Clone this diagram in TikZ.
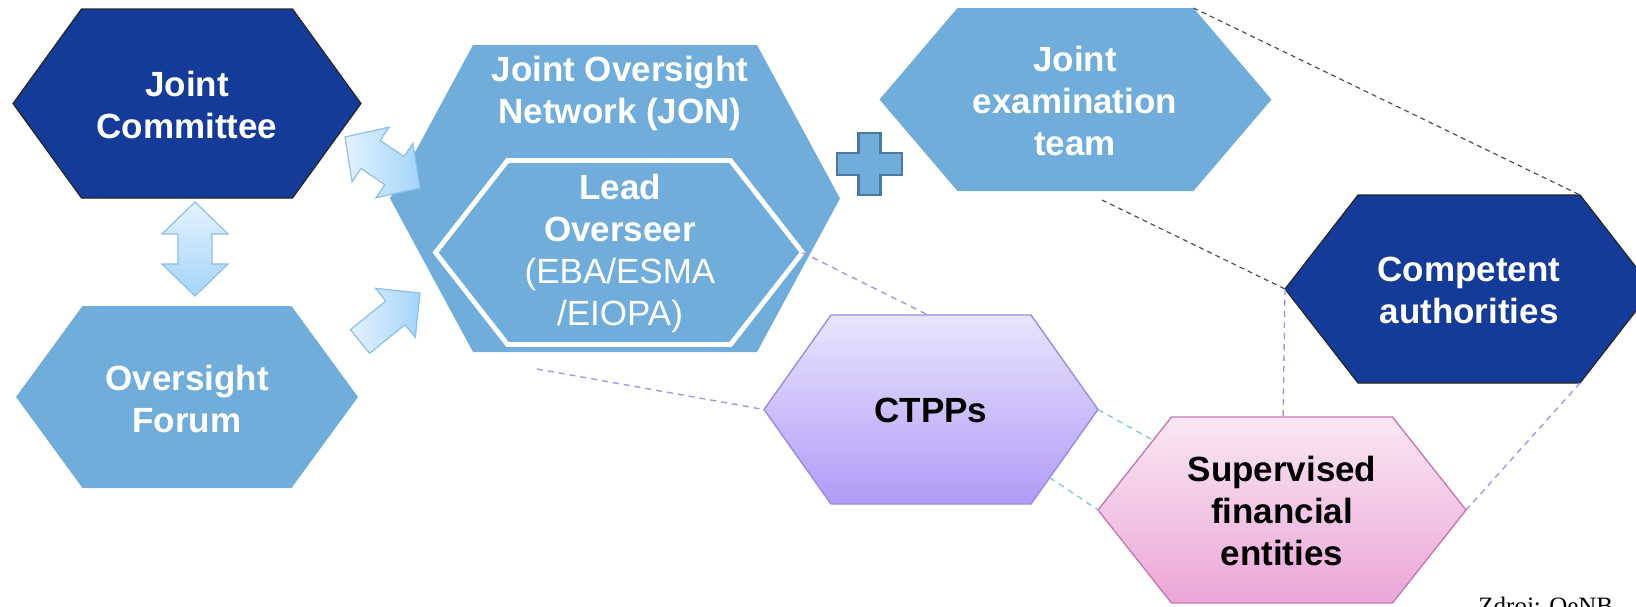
\documentclass[tikz,border=0pt]{standalone}
\usepackage{fontspec}
\setsansfont{Liberation Sans}
\newfontfamily\zdrojfont{Liberation Serif}
\usetikzlibrary{calc}
\definecolor{darkblue}{RGB}{19,59,151}
\definecolor{midblue}{RGB}{112,173,218}
\definecolor{plusedge}{RGB}{72,122,165}
\definecolor{arrowtop}{RGB}{228,242,255}
\definecolor{arrowbot}{RGB}{163,213,249}
\definecolor{arrowedge}{RGB}{140,192,232}
\definecolor{ctpptop}{RGB}{233,228,253}
\definecolor{ctppbot}{RGB}{176,156,247}
\definecolor{ctppedge}{RGB}{157,138,230}
\definecolor{sfetop}{RGB}{250,231,244}
\definecolor{sfebot}{RGB}{235,166,214}
\definecolor{sfeedge}{RGB}{194,123,181}
\definecolor{lavdash}{RGB}{165,150,234}
\definecolor{bluedash}{RGB}{140,198,230}
\definecolor{graydash}{RGB}{80,80,80}

\newcommand{\hexa}[7]{%
  \coordinate (#1-c) at (#2,#3);
  \coordinate (#1-l) at ({#2-#4},#3);
  \coordinate (#1-tl) at ({#2-#5},{#3-#6});
  \coordinate (#1-tr) at ({#2+#5},{#3-#6});
  \coordinate (#1-r) at ({#2+#4},#3);
  \coordinate (#1-br) at ({#2+#5},{#3+#6});
  \coordinate (#1-bl) at ({#2-#5},{#3+#6});
  \path[#7] (#1-l) -- (#1-tl) -- (#1-tr) -- (#1-r) -- (#1-br) -- (#1-bl) -- cycle;
}
\newcommand{\dblarrow}[6]{%
  \path[blockarrow,#6] (#1)
    -- ($(#1)!#3!(#2)!#4!90:(#2)$)
    -- ($(#1)!#3!(#2)!#5!90:(#2)$)
    -- ($(#2)!#3!(#1)!#5!-90:(#1)$)
    -- ($(#2)!#3!(#1)!#4!-90:(#1)$)
    -- (#2)
    -- ($(#2)!#3!(#1)!#4!90:(#1)$)
    -- ($(#2)!#3!(#1)!#5!90:(#1)$)
    -- ($(#1)!#3!(#2)!#5!-90:(#2)$)
    -- ($(#1)!#3!(#2)!#4!-90:(#2)$)
    -- cycle;
}
\newcommand{\sglarrow}[6]{%
  \path[blockarrow,#6] ($(#1)!#5!90:(#2)$)
    -- ($(#2)!#3!(#1)!#5!-90:(#1)$)
    -- ($(#2)!#3!(#1)!#4!-90:(#1)$)
    -- (#2)
    -- ($(#2)!#3!(#1)!#4!90:(#1)$)
    -- ($(#2)!#3!(#1)!#5!90:(#1)$)
    -- ($(#1)!#5!-90:(#2)$)
    -- cycle;
}
\tikzset{
  lbl/.style={font={\sffamily\bfseries\fontsize{17.5}{21}\selectfont}, align=center, inner sep=0pt},
  wlbl/.style={lbl, text=white},
  klbl/.style={lbl, text=black},
  darkhex/.style={fill=darkblue, draw=black!85, line width=0.6pt},
  lighthex/.style={fill=midblue},
  innerhex/.style={fill=midblue, draw=white, line width=2.4pt},
  ctpphex/.style={top color=ctpptop, bottom color=ctppbot, draw=ctppedge, line width=0.7pt},
  sfehex/.style={top color=sfetop, bottom color=sfebot, draw=sfeedge, line width=0.7pt},
  blockarrow/.style={draw=arrowedge, line width=0.6pt},
  plusstyle/.style={fill=midblue, draw=plusedge, line width=1.3pt},
  gdash/.style={draw=graydash, line width=0.6pt, dash pattern=on 2.5pt off 2pt},
  ldash/.style={draw=lavdash, line width=0.7pt, dash pattern=on 3pt off 2.5pt},
  bdash/.style={draw=bluedash, line width=0.7pt, dash pattern=on 3pt off 2.5pt},
}
\begin{document}
\begin{tikzpicture}[x=0.5pt,y=-0.5pt]
\useasboundingbox (0,0) rectangle (1636,606);
\clip (0,0) rectangle (1636,606);

% hexagons
\hexa{jc}{187}{103.5}{174}{105.5}{94.5}{darkhex}
\hexa{of}{187}{397}{171}{104.5}{91}{lighthex}
\hexa{jon}{615}{198.5}{225}{142}{153.5}{lighthex}
\hexa{lo}{619}{252.5}{183.5}{111.5}{92}{innerhex}
\hexa{jet}{1075.5}{99.5}{196}{118}{91.5}{lighthex}
\hexa{ca}{1469}{289}{184}{111}{94}{darkhex}
\hexa{ctpp}{931}{409.5}{167}{100}{94.5}{ctpphex}
\hexa{sfe}{1282}{510}{184}{110.5}{93}{sfehex}

% free ends of connectors
\coordinate (jetlow) at (1102,200);
\coordinate (jonlow) at (537,369);
\coordinate (ctpptop) at (928,315);
\coordinate (sfetop) at (1283,417);
\coordinate (sfeul) at ($(sfe-l)!0.75!(sfe-tl)$);
\coordinate (ctpplr) at ($(ctpp-r)!0.72!(ctpp-br)$);

% dashed connectors
\draw[gdash] (jet-tr) -- (ca-tr);
\draw[gdash] (jetlow) -- (ca-l);
\draw[ldash] (lo-r) -- (ctpptop);
\draw[ldash] (jonlow) -- (ctpp-l);
\draw[ldash] (ca-l) -- (sfetop);
\draw[ldash] (ca-br) -- (sfe-r);
\draw[bdash] (ctpp-r) -- (sfeul);
\draw[bdash] (ctpplr) -- (sfe-l);

% block arrows
\coordinate (va1) at (195,202);
\coordinate (va2) at (195,296);
\coordinate (da1) at (345,137);
\coordinate (da2) at (420,188);
\coordinate (sa1) at (360,341.5);
\coordinate (sa2) at (420,293);
\dblarrow{va1}{va2}{16pt}{16.5pt}{8.5pt}{top color=arrowtop, bottom color=arrowbot}
\dblarrow{da1}{da2}{15.5pt}{16.5pt}{8.5pt}{left color=arrowtop, right color=arrowbot}
\sglarrow{sa1}{sa2}{15.8pt}{15.8pt}{7.6pt}{left color=arrowtop, right color=arrowbot}

% plus
\path[plusstyle, shift={(869.5,164)}] (-32.5,-11) -- (-11,-11) -- (-11,-31) -- (11,-31) -- (11,-11) -- (32.5,-11) -- (32.5,11) -- (11,11) -- (11,31) -- (-11,31) -- (-11,11) -- (-32.5,11) -- cycle;
\coordinate (plus) at (869.5,164);

% labels
\node[wlbl] (jct) at (187,105) {Joint\\Committee};
\node[wlbl] (oft) at (187,399) {Oversight\\Forum};
\node[wlbl] (jont) at (620,93) {Joint Oversight\\Network (JON)};
\node[wlbl] (lot) at (620,253) {Lead\\Overseer\\{\mdseries(EBA/ESMA}\\{\mdseries/EIOPA)}};
\node[wlbl] (jett) at (1075,101) {Joint\\examination\\team};
\node[wlbl] (cat) at (1469,290) {Competent\\authorities};
\node[klbl] (ctppt) at (931,410) {CTPPs};
\node[klbl] (sfet) at (1282,511) {Supervised\\financial\\entities};
\node[anchor=base west, inner sep=0pt, font={\zdrojfont\fontsize{12.5}{15}\selectfont}] (src) at (1478,614.5) {Zdroj: OeNB};
\end{tikzpicture}
\end{document}
